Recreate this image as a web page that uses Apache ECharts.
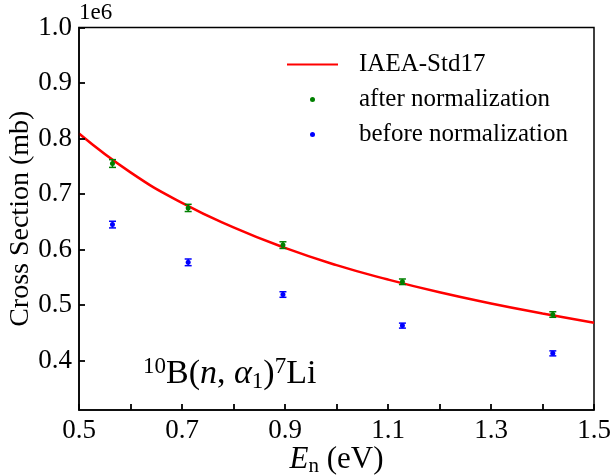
<!DOCTYPE html>
<html><head><meta charset="utf-8">
<script src="https://cdn.jsdelivr.net/npm/echarts@6/dist/echarts.min.js"></script>
<style>html,body{margin:0;padding:0;background:#fff}#c{width:611px;height:475px}</style>
</head><body><div id="c"></div>
<script>
// ---- data (cross sections in mb) ----
const stdE = [0.5, 0.6, 0.7, 0.8, 0.9, 1.0, 1.1, 1.2, 1.3, 1.4, 1.5];
const stdXS = [809000, 739000, 684000, 640000, 603000, 572000, 546000, 523000, 503000, 485000, 468000];
const measE = [0.565, 0.712, 0.896, 1.128, 1.420];
const afterXS = [755000, 675000, 608000, 542000, 483000];
const afterErr = [7000, 6500, 6000, 5000, 5000];
const beforeXS = [645000, 577000, 519000, 463000, 413000];
const beforeErr = [6000, 6000, 5000, 4500, 4500];
const xLabels = [0.5, 0.7, 0.9, 1.1, 1.3, 1.5];
const names = ['IAEA-Std17', 'after normalization', 'before normalization'];

const FONT = "'Liberation Serif','Times New Roman',serif";
const chart = echarts.init(document.getElementById('c'), null, {renderer: 'canvas'});

function errItem(color) {
  return function (params, api) {
    const x = api.value(0), y = api.value(1), e = api.value(2);
    const top = api.coord([x, y + e]);
    const bot = api.coord([x, y - e]);
    const hw = 3.5;
    const style = {stroke: color, lineWidth: 1.5};
    return {type: 'group', children: [
      {type: 'line', shape: {x1: top[0], y1: top[1], x2: bot[0], y2: bot[1]}, style: style},
      {type: 'line', shape: {x1: top[0] - hw, y1: top[1], x2: top[0] + hw, y2: top[1]}, style: style},
      {type: 'line', shape: {x1: bot[0] - hw, y1: bot[1], x2: bot[0] + hw, y2: bot[1]}, style: style}
    ]};
  };
}

const option = {
  animation: false,
  backgroundColor: '#fff',
  textStyle: {fontFamily: FONT},
  grid: {left: 79, right: 17, top: 27.5, bottom: 65, containLabel: false, outerBoundsMode: 'none',
    show: true, borderColor: '#000', borderWidth: 1.5, backgroundColor: 'transparent', z: 0},
  xAxis: {
    type: 'value', min: 0.5, max: 1.5, interval: 0.1, z: 5,
    axisLine: {show: true, onZero: false, lineStyle: {color: '#000', width: 1.5}},
    axisTick: {show: true, inside: true, length: 6, lineStyle: {color: '#000', width: 1.8}},
    axisLabel: {color: '#000', fontSize: 27, fontFamily: FONT, margin: 7, hideOverlap: false,
      formatter: v => {
        const r = Math.round(v * 10) / 10;
        return xLabels.some(l => Math.abs(l - r) < 1e-6) ? r.toFixed(1) : '';
      }},
    splitLine: {show: false},
    name: '{i|E}{s|n}{r| (eV)}', nameLocation: 'middle', nameGap: 32, nameMoveOverlap: false,
    nameTextStyle: {color: '#000', fontFamily: FONT, rich: {
      i: {fontSize: 31, fontStyle: 'italic', fontFamily: FONT, color: '#000'},
      s: {fontSize: 21, fontFamily: FONT, color: '#000', padding: [14, 0, 0, 0]},
      r: {fontSize: 31, fontFamily: FONT, color: '#000'}
    }}
  },
  yAxis: {
    type: 'value', min: 311000, max: 1000000, splitNumber: 7, z: 5,
    axisLine: {show: true, onZero: false, lineStyle: {color: '#000', width: 1.5}},
    axisTick: {show: true, inside: true, length: 6, lineStyle: {color: '#000', width: 1.8}},
    axisLabel: {color: '#000', fontSize: 27, fontFamily: FONT, margin: 7, showMinLabel: false,
      formatter: v => (v / 1e6).toFixed(1)},
    splitLine: {show: false},
    name: 'Cross Section (mb)', nameLocation: 'middle', nameGap: 44, nameMoveOverlap: false,
    nameTextStyle: {color: '#000', fontSize: 28, fontFamily: FONT}
  },
  legend: {
    orient: 'vertical', left: 281, top: 47, itemGap: 10,
    itemWidth: 51, itemHeight: 5,
    data: [{name: names[0], itemStyle: {opacity: 0}}, names[1], names[2]],
    textStyle: {color: '#000', fontSize: 25, fontFamily: FONT, padding: [0, 0, 0, 16]}
  },
  series: [
    {name: names[0], type: 'line', smooth: true, showSymbol: false, symbol: 'none',
     data: stdE.map((e, i) => [e, stdXS[i]]),
     lineStyle: {color: '#ff0000', width: 2.5}, itemStyle: {color: '#ff0000'}, z: 2},
    {name: names[1], type: 'scatter', symbol: 'circle', symbolSize: 5,
     data: measE.map((e, i) => [e, afterXS[i]]), itemStyle: {color: '#008000', opacity: 1}, z: 4},
    {name: names[2], type: 'scatter', symbol: 'circle', symbolSize: 5,
     data: measE.map((e, i) => [e, beforeXS[i]]), itemStyle: {color: '#0000ff', opacity: 1}, z: 4},
    {type: 'custom', renderItem: errItem('#008000'), data: measE.map((e, i) => [e, afterXS[i], afterErr[i]]), z: 3, silent: true},
    {type: 'custom', renderItem: errItem('#0000ff'), data: measE.map((e, i) => [e, beforeXS[i], beforeErr[i]]), z: 3, silent: true}
  ],
  graphic: [
    {type: 'text', left: 79, top: 1, style: {text: '1e6', font: "23px " + FONT, fill: '#000'}},
    {type: 'text', left: 143, top: 355, style: {
      text: '{p|10}{b|B(}{i|n}{b|, }{i|α}{q|1}{b|)}{p|7}{b|Li}',
      rich: {
        b: {fontSize: 34, fontFamily: FONT, color: '#000'},
        i: {fontSize: 34, fontFamily: FONT, fontStyle: 'italic', color: '#000'},
        p: {fontSize: 23, fontFamily: FONT, color: '#000', padding: [0, 0, 16, 0]},
        q: {fontSize: 23, fontFamily: FONT, color: '#000', padding: [14, 0, 0, 0]}
      }
    }}
  ]
};
chart.setOption(option);
</script></body></html>
